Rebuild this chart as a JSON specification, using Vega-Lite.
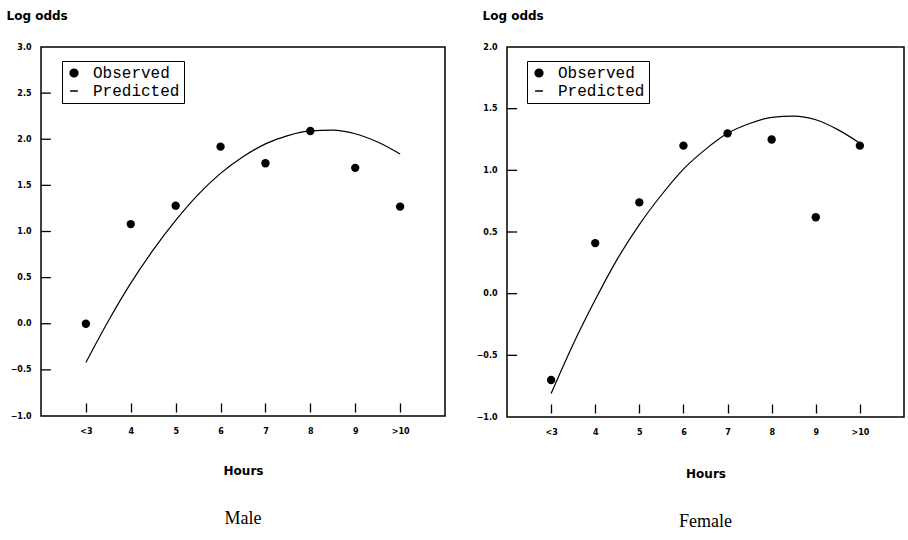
{
  "$schema": "https://vega.github.io/schema/vega-lite/v6.json",
  "background": "white",
  "padding": {"left": 5, "top": 8, "right": 2, "bottom": 5},
  "datasets": {
    "male_obs": [
      {"hours": 3, "logodds": 0.0, "series": "Observed"},
      {"hours": 4, "logodds": 1.08, "series": "Observed"},
      {"hours": 5, "logodds": 1.28, "series": "Observed"},
      {"hours": 6, "logodds": 1.92, "series": "Observed"},
      {"hours": 7, "logodds": 1.74, "series": "Observed"},
      {"hours": 8, "logodds": 2.09, "series": "Observed"},
      {"hours": 9, "logodds": 1.69, "series": "Observed"},
      {"hours": 10, "logodds": 1.27, "series": "Observed"}
    ],
    "male_pred": [
      {"hours": 3, "logodds": -0.42, "series": "Predicted"},
      {"hours": 3.5, "logodds": 0.03, "series": "Predicted"},
      {"hours": 4, "logodds": 0.44, "series": "Predicted"},
      {"hours": 4.5, "logodds": 0.8, "series": "Predicted"},
      {"hours": 5, "logodds": 1.12, "series": "Predicted"},
      {"hours": 5.5, "logodds": 1.4, "series": "Predicted"},
      {"hours": 6, "logodds": 1.63, "series": "Predicted"},
      {"hours": 6.5, "logodds": 1.81, "series": "Predicted"},
      {"hours": 7, "logodds": 1.95, "series": "Predicted"},
      {"hours": 7.5, "logodds": 2.04, "series": "Predicted"},
      {"hours": 8, "logodds": 2.09, "series": "Predicted"},
      {"hours": 8.5, "logodds": 2.1, "series": "Predicted"},
      {"hours": 9, "logodds": 2.06, "series": "Predicted"},
      {"hours": 9.5, "logodds": 1.97, "series": "Predicted"},
      {"hours": 10, "logodds": 1.84, "series": "Predicted"}
    ],
    "male_ticks": [
      {"logodds": -0.5}, {"logodds": 0.0}, {"logodds": 0.5}, {"logodds": 1.0},
      {"logodds": 1.5}, {"logodds": 2.0}, {"logodds": 2.5}
    ],
    "female_obs": [
      {"hours": 3, "logodds": -0.7, "series": "Observed"},
      {"hours": 4, "logodds": 0.41, "series": "Observed"},
      {"hours": 5, "logodds": 0.74, "series": "Observed"},
      {"hours": 6, "logodds": 1.2, "series": "Observed"},
      {"hours": 7, "logodds": 1.3, "series": "Observed"},
      {"hours": 8, "logodds": 1.25, "series": "Observed"},
      {"hours": 9, "logodds": 0.62, "series": "Observed"},
      {"hours": 10, "logodds": 1.2, "series": "Observed"}
    ],
    "female_pred": [
      {"hours": 3, "logodds": -0.81, "series": "Predicted"},
      {"hours": 3.5, "logodds": -0.41, "series": "Predicted"},
      {"hours": 4, "logodds": -0.05, "series": "Predicted"},
      {"hours": 4.5, "logodds": 0.28, "series": "Predicted"},
      {"hours": 5, "logodds": 0.56, "series": "Predicted"},
      {"hours": 5.5, "logodds": 0.8, "series": "Predicted"},
      {"hours": 6, "logodds": 1.01, "series": "Predicted"},
      {"hours": 6.5, "logodds": 1.17, "series": "Predicted"},
      {"hours": 7, "logodds": 1.3, "series": "Predicted"},
      {"hours": 7.5, "logodds": 1.38, "series": "Predicted"},
      {"hours": 8, "logodds": 1.43, "series": "Predicted"},
      {"hours": 8.5, "logodds": 1.44, "series": "Predicted"},
      {"hours": 9, "logodds": 1.41, "series": "Predicted"},
      {"hours": 9.5, "logodds": 1.33, "series": "Predicted"},
      {"hours": 10, "logodds": 1.22, "series": "Predicted"}
    ],
    "female_ticks": [
      {"logodds": -0.5}, {"logodds": 0.0}, {"logodds": 0.5}, {"logodds": 1.0}, {"logodds": 1.5}
    ]
  },
  "config": {
    "view": {"stroke": "black", "strokeWidth": 1.5},
    "axis": {
      "grid": false, "domain": false, "zindex": 1,
      "labelFont": "DejaVu Sans", "labelFontWeight": "bold", "labelFontSize": 8, "labelColor": "black",
      "tickColor": "black", "tickWidth": 1.3,
      "titleFont": "DejaVu Sans", "titleFontWeight": "bold", "titleFontSize": 12, "titleColor": "black"
    },
    "concat": {"spacing": 29}
  },
  "resolve": {"scale": {"color": "independent"}, "legend": {"color": "independent"}},
  "hconcat": [
    {
      "width": 404, "height": 369,
      "title": {"text": "Male", "orient": "bottom", "font": "Liberation Serif", "fontSize": 18, "fontWeight": "normal", "color": "black", "offset": 34},
      "layer": [
        {
          "data": {"name": "male_pred"},
          "mark": {"type": "line", "interpolate": "monotone", "strokeWidth": 1.2},
          "encoding": {
            "x": {"field": "hours", "type": "quantitative", "scale": {"domain": [2, 11], "nice": false},
                  "axis": {"title": "Hours", "values": [3,4,5,6,7,8,9,10], "labelExpr": "datum.value == 3 ? '<3' : datum.value == 10 ? '>10' : datum.label", "tickSize": -13, "tickDash": [0, 4, 9, 100], "labelPadding": 24, "titlePadding": 30}},
            "y": {"field": "logodds", "type": "quantitative", "scale": {"domain": [-1, 3], "nice": false},
                  "axis": {"title": "Log odds", "values": [-1,-0.5,0,0.5,1,1.5,2,2.5,3], "format": ".1f", "ticks": false, "labelPadding": 10, "titleAngle": 0, "titleAlign": "left", "titleBaseline": "alphabetic", "titleX": -35, "titleY": -28}},
            "color": {"field": "series", "type": "nominal", "scale": {"domain": ["Observed", "Predicted"], "range": ["black", "black"]},
                      "legend": {"title": null, "orient": "none", "legendX": 21, "legendY": 14, "strokeColor": "black", "fillColor": "white", "padding": 4, "labelFont": "Liberation Mono", "labelFontSize": 16, "labelFontWeight": "normal", "labelColor": "black", "symbolSize": 60, "rowPadding": 2, "labelOffset": 11,
                                 "encode": {"symbols": {"update": {"shape": {"signal": "datum.value === 'Predicted' ? 'stroke' : 'circle'"}, "fill": {"signal": "datum.value === 'Predicted' ? 'transparent' : 'black'"}, "stroke": {"value": "black"}, "strokeWidth": {"value": 1.5}, "opacity": {"value": 1}}}}}}
          }
        },
        {
          "data": {"name": "male_ticks"},
          "mark": {"type": "rule", "color": "black", "strokeWidth": 1.3},
          "encoding": {
            "y": {"field": "logodds", "type": "quantitative"},
            "x": {"datum": 2},
            "x2": {"datum": 2.22}
          }
        },
        {
          "data": {"name": "male_obs"},
          "mark": {"type": "point", "filled": true, "size": 70, "opacity": 1},
          "encoding": {
            "x": {"field": "hours", "type": "quantitative"},
            "y": {"field": "logodds", "type": "quantitative"},
            "color": {"field": "series", "type": "nominal"}
          }
        }
      ]
    },
    {
      "width": 397, "height": 370,
      "title": {"text": "Female", "orient": "bottom", "font": "Liberation Serif", "fontSize": 18, "fontWeight": "normal", "color": "black", "offset": 34},
      "layer": [
        {
          "data": {"name": "female_pred"},
          "mark": {"type": "line", "interpolate": "monotone", "strokeWidth": 1.2},
          "encoding": {
            "x": {"field": "hours", "type": "quantitative", "scale": {"domain": [2, 11], "nice": false},
                  "axis": {"title": "Hours", "values": [3,4,5,6,7,8,9,10], "labelExpr": "datum.value == 3 ? '<3' : datum.value == 10 ? '>10' : datum.label", "tickSize": -13, "tickDash": [0, 4, 9, 100], "labelPadding": 24, "titlePadding": 32}},
            "y": {"field": "logodds", "type": "quantitative", "scale": {"domain": [-1, 2], "nice": false},
                  "axis": {"title": "Log odds", "values": [-1,-0.5,0,0.5,1,1.5,2], "format": ".1f", "ticks": false, "labelPadding": 10, "titleAngle": 0, "titleAlign": "left", "titleBaseline": "alphabetic", "titleX": -25, "titleY": -28}},
            "color": {"field": "series", "type": "nominal", "scale": {"domain": ["Observed", "Predicted"], "range": ["black", "black"]},
                      "legend": {"title": null, "orient": "none", "legendX": 20, "legendY": 14, "strokeColor": "black", "fillColor": "white", "padding": 4, "labelFont": "Liberation Mono", "labelFontSize": 16, "labelFontWeight": "normal", "labelColor": "black", "symbolSize": 60, "rowPadding": 2, "labelOffset": 11,
                                 "encode": {"symbols": {"update": {"shape": {"signal": "datum.value === 'Predicted' ? 'stroke' : 'circle'"}, "fill": {"signal": "datum.value === 'Predicted' ? 'transparent' : 'black'"}, "stroke": {"value": "black"}, "strokeWidth": {"value": 1.5}, "opacity": {"value": 1}}}}}}
          }
        },
        {
          "data": {"name": "female_ticks"},
          "mark": {"type": "rule", "color": "black", "strokeWidth": 1.3},
          "encoding": {
            "y": {"field": "logodds", "type": "quantitative"},
            "x": {"datum": 2},
            "x2": {"datum": 2.23}
          }
        },
        {
          "data": {"name": "female_obs"},
          "mark": {"type": "point", "filled": true, "size": 70, "opacity": 1},
          "encoding": {
            "x": {"field": "hours", "type": "quantitative"},
            "y": {"field": "logodds", "type": "quantitative"},
            "color": {"field": "series", "type": "nominal"}
          }
        }
      ]
    }
  ]
}
